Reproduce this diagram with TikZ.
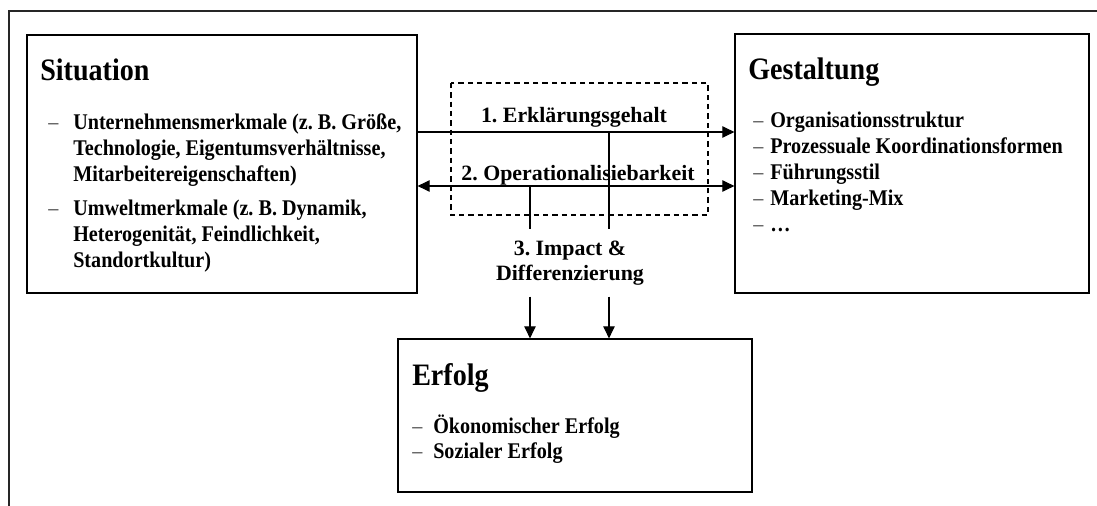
\documentclass[tikz,border=0pt]{standalone}
\usepackage{fontspec}
\setmainfont{Liberation Serif}
\newfontfamily\condfont[FakeStretch=0.9]{Liberation Serif}
\usetikzlibrary{positioning,calc,arrows.meta}
\frenchspacing

\newcommand{\dsh}{\textmd{\textcolor{black!75}{–}}}
\newcommand{\itemtab}[2]{\begin{tabular}[t]{@{}p{#1}@{}l@{}}#2\end{tabular}}

\begin{document}
\begin{tikzpicture}[x=0.75pt, y=-0.75pt,
    box/.style={draw, line width=0.9pt, rectangle},
    head/.style={anchor=base west, inner sep=0pt, font=\condfont\fontsize{23.4}{26}\selectfont\bfseries},
    items/.style={anchor=base west, inner sep=0pt, font=\condfont\fontsize{16.8}{19.4}\selectfont\bfseries},
    lbl/.style={inner sep=0pt, font=\fontsize{16.4}{18.5}\selectfont\bfseries},
    arr/.style={line width=0.8pt, -{Triangle[length=9pt,width=8.5pt]}},
    arrboth/.style={line width=0.8pt, {Triangle[length=9pt,width=8.5pt]}-{Triangle[length=9pt,width=8.5pt]}}]
    \useasboundingbox (0,0) rectangle (1097,506);

    % Frame
    \draw[line width=1.1pt, black!85] (1097,11) -- (9,11) -- (9,506);

    % Boxes
    \node[box, minimum width=292.5pt, minimum height=193.5pt] (sit) at (222,164) {};
    \node[box, minimum width=265.5pt, minimum height=194.25pt] (gest) at (912,163.5) {};
    \node[box, minimum width=265.5pt, minimum height=114.75pt] (erf) at (575,415.5) {};

    % Headings
    \node[head] (sith) at (40,81) {Situation};
    \node[head] (gesth) at (748,80) {Gestaltung};
    \node[head] (erfh) at (412,385) {Erfolg};

    % Lists
    \node[items] (sitl) at (48,130) {\itemtab{18.75pt}{\dsh & Unternehmensmerkmale (z. B. Größe,\\
        & Technologie, Eigentumsverhältnisse,\\
        & Mitarbeitereigenschaften)\\[6pt]
        \dsh & Umweltmerkmale (z. B. Dynamik,\\
        & Heterogenität, Feindlichkeit,\\
        & Standortkultur)}};
    \node[items] (gestl) at (753,128) {\itemtab{12.75pt}{\dsh & Organisationsstruktur\\
        \dsh & Prozessuale Koordinationsformen\\
        \dsh & Führungsstil\\
        \dsh & Marketing-Mix\\
        \dsh & \dots}};
    \node[items] (erfl) at (412,433) {\itemtab{15.75pt}{\dsh & Ökonomischer Erfolg\\
        \dsh & Sozialer Erfolg}};

    % Dashed frame
    \draw[dash pattern=on 4pt off 3pt, line width=0.8pt] (451,83) rectangle (708,215);

    % Labels
    \node[lbl, anchor=base] (l1) at (574,123) {1. Erklärungsgehalt};
    \node[lbl, anchor=base] (l2) at (578,181) {2. Operationalisiebarkeit};
    \node[lbl, align=center, inner ysep=8.5pt] (l3) at (570,263) {3. Impact \&\\Differenzierung};

    % Arrows
    \coordinate (j1) at (609,132);
    \coordinate (j2) at (530,186);
    \draw[arr] (sit.east |- j1) -- (gest.west |- j1);
    \draw[arrboth] (sit.east |- j2) -- (gest.west |- j2);
    \foreach \j in {j1,j2} {
        \draw[line width=0.8pt] (\j) -- (\j |- l3.north);
        \draw[arr] (\j |- l3.south) -- (\j |- erf.north);
    }
\end{tikzpicture}
\end{document}
